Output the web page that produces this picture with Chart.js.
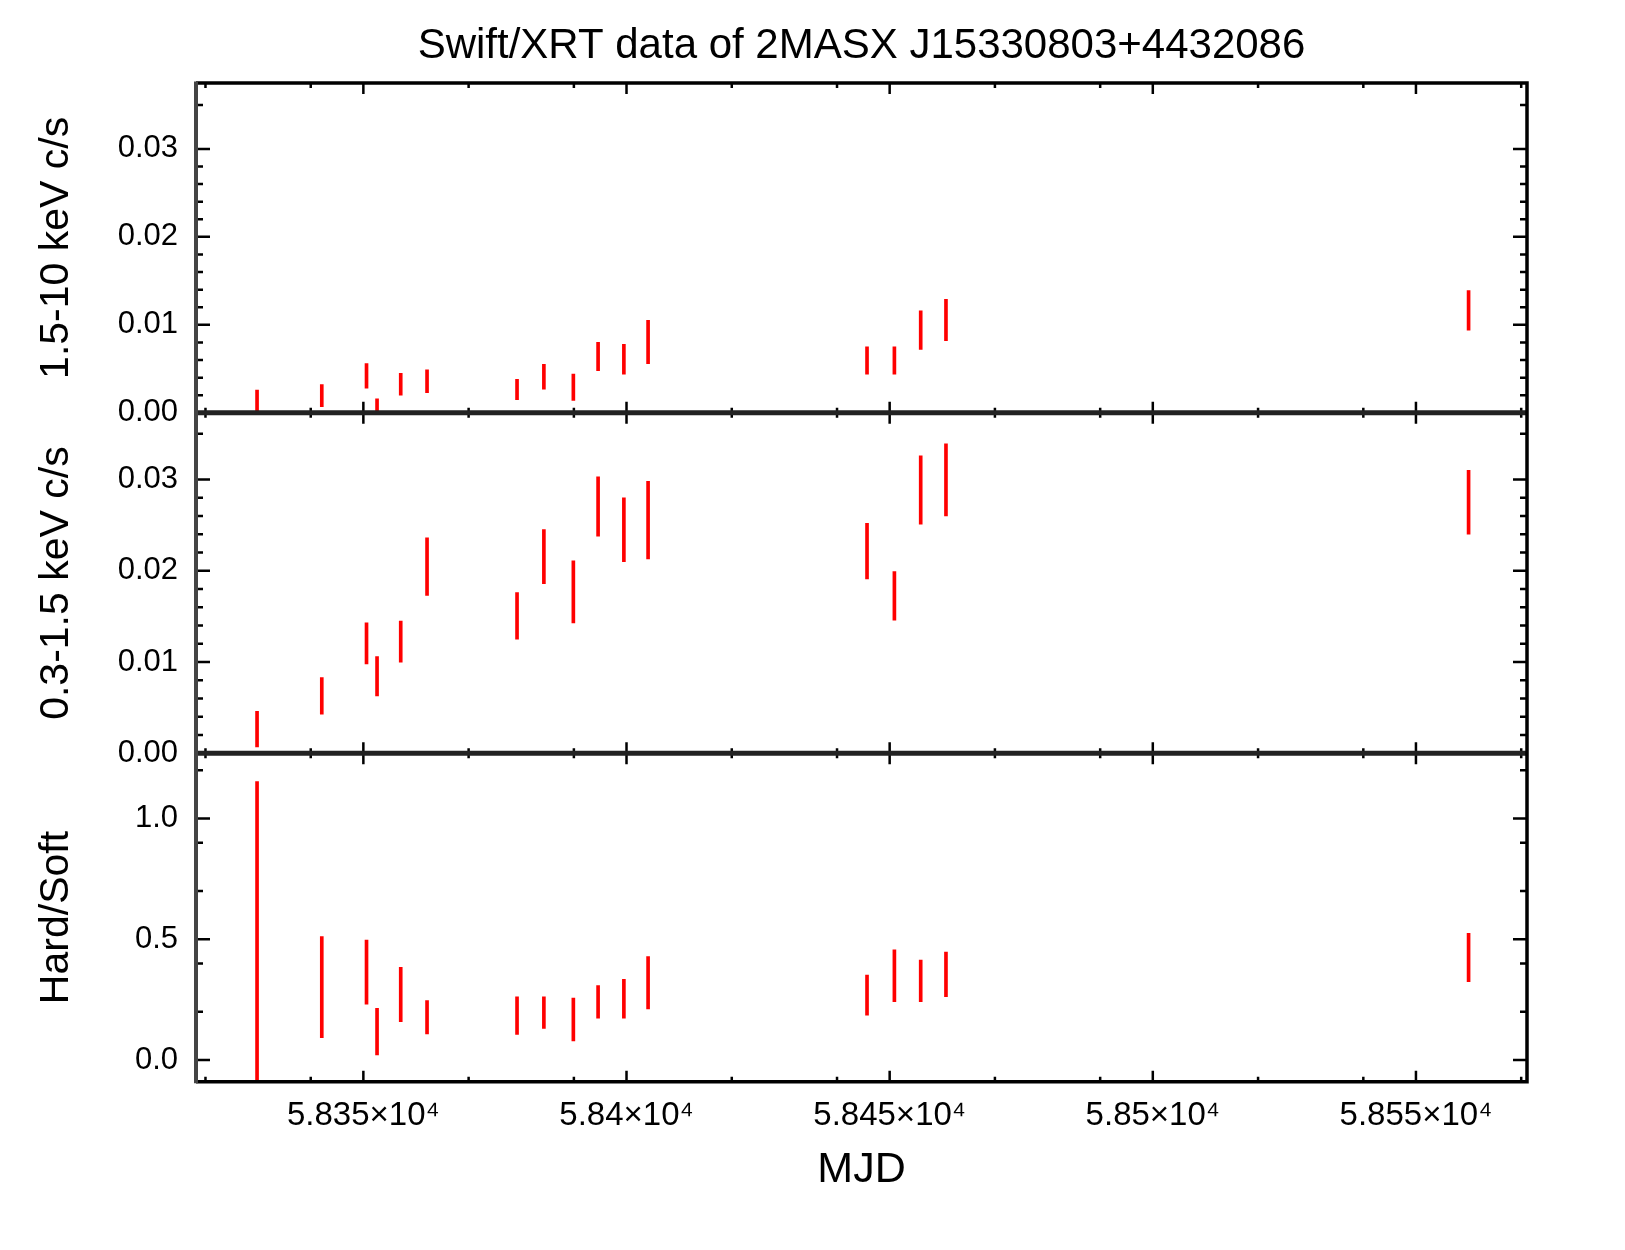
<!DOCTYPE html>
<html>
<head>
<meta charset="utf-8">
<title>Swift/XRT data of 2MASX J15330803+4432086</title>
<script src="https://cdn.jsdelivr.net/npm/chart.js@4.4.1/dist/chart.umd.min.js"></script>
<style>
  html, body { margin: 0; padding: 0; background: #fff; }
</style>
</head>
<body>
<canvas id="xrtChart" width="1625" height="1250"></canvas>
<script>
// observation dates (MJD)
const mjd = [58329.8, 58342.1, 58350.6, 58352.6, 58357.1, 58362.1, 58379.2, 58384.3, 58389.9,
             58394.6, 58399.5, 58404.1, 58445.7, 58450.9, 58455.9, 58460.7, 58560.0];

// 1.5-10 keV count rate (c/s), error bar ends
const hardLow  = [-0.0003, 0.0007, 0.0028, -0.0003, 0.0020, 0.0023, 0.0015, 0.0027, 0.0014,
                  0.0048, 0.0044, 0.0056, 0.0044, 0.0044, 0.0072, 0.0082, 0.0094];
const hardHigh = [0.0026, 0.0032, 0.0056, 0.0016, 0.0045, 0.0049, 0.0038, 0.0055, 0.0044,
                  0.0080, 0.0078, 0.0105, 0.0075, 0.0075, 0.0116, 0.0129, 0.0139];

// 0.3-1.5 keV count rate (c/s), error bar ends
const softLow  = [0.0007, 0.0043, 0.0098, 0.0063, 0.0100, 0.0173, 0.0125, 0.0186, 0.0143,
                  0.0238, 0.0210, 0.0213, 0.0191, 0.0146, 0.0251, 0.0260, 0.0240];
const softHigh = [0.0046, 0.0083, 0.0143, 0.0106, 0.0145, 0.0236, 0.0176, 0.0245, 0.0211,
                  0.0303, 0.0280, 0.0298, 0.0252, 0.0199, 0.0326, 0.0339, 0.0310];

// hard/soft ratio, error bar ends
const ratioLow  = [-0.15, 0.092, 0.231, 0.021, 0.159, 0.108, 0.106, 0.131, 0.079,
                   0.173, 0.173, 0.211, 0.186, 0.242, 0.242, 0.262, 0.324];
const ratioHigh = [1.153, 0.511, 0.497, 0.214, 0.384, 0.246, 0.262, 0.262, 0.256,
                   0.308, 0.334, 0.428, 0.352, 0.456, 0.414, 0.447, 0.525];

// ticks
const xTickValues = [58350, 58400, 58450, 58500, 58550];
const xTickLabels = ['5.835\u00d710\u2074', '5.84\u00d710\u2074', '5.845\u00d710\u2074', '5.85\u00d710\u2074', '5.855\u00d710\u2074'];
const xMinorTicks = [58320, 58340, 58370, 58390, 58420, 58440, 58470, 58490, 58520, 58540, 58570];

const rateTickValues = [0, 0.01, 0.02, 0.03];
const rateTickLabels = ['0.00', '0.01', '0.02', '0.03'];
const rateMinorTicks = [0.002, 0.004, 0.006, 0.008, 0.012, 0.014, 0.016, 0.018,
                        0.022, 0.024, 0.026, 0.028, 0.035];

const ratioTickValues = [0, 0.5, 1.0];
const ratioTickLabels = ['0.0', '0.5', '1.0'];
const ratioMinorTicks = [0.2, 0.4, 0.7, 0.9, 1.2];

const FONT = "'Liberation Sans', Arial, Helvetica, sans-serif";

function errorBars(lo, hi) {
  return mjd.map((x, i) => ({ x: x, y: [lo[i], hi[i]] }));
}

function yAxis(title, min, max, weight, values, labels) {
  return {
    type: 'linear',
    position: 'left',
    stack: 'panels',
    stackWeight: weight,
    min: min,
    max: max,
    grid: { display: false, drawTicks: false },
    border: { display: false },
    afterBuildTicks: s => { s.ticks = values.map(v => ({ value: v })); },
    afterFit: s => { s.width = 196; },
    ticks: {
      autoSkip: false,
      padding: 18,
      color: '#000',
      font: { family: FONT, size: 31 },
      callback: (v, i) => labels[i]
    },
    title: {
      display: true,
      text: title,
      color: '#000',
      font: { family: FONT, size: 41 },
      padding: { top: 32, bottom: 0 }
    }
  };
}

// inward ticks on every side of every panel, plus the frame
const frameTicks = {
  id: 'frameTicks',
  afterDatasetsDraw(chart) {
    const ctx = chart.ctx;
    const a = chart.chartArea;
    const xs = chart.scales.x;
    const panels = [
      { s: chart.scales.yHard, major: rateTickValues, minor: rateMinorTicks },
      { s: chart.scales.ySoft, major: rateTickValues, minor: rateMinorTicks },
      { s: chart.scales.yRatio, major: ratioTickValues, minor: ratioMinorTicks }
    ];
    ctx.save();
    ctx.strokeStyle = '#000';
    ctx.lineWidth = 2.5;
    ctx.beginPath();
    panels.forEach(p => {
      const s = p.s;
      p.major.forEach(v => {
        const y = s.getPixelForValue(v);
        ctx.moveTo(a.left, y); ctx.lineTo(a.left + 14, y);
        ctx.moveTo(a.right, y); ctx.lineTo(a.right - 14, y);
      });
      p.minor.forEach(v => {
        const y = s.getPixelForValue(v);
        ctx.moveTo(a.left, y); ctx.lineTo(a.left + 7, y);
        ctx.moveTo(a.right, y); ctx.lineTo(a.right - 7, y);
      });
      xTickValues.forEach(v => {
        const x = xs.getPixelForValue(v);
        ctx.moveTo(x, s.top); ctx.lineTo(x, s.top + 11);
        ctx.moveTo(x, s.bottom); ctx.lineTo(x, s.bottom - 11);
      });
      xMinorTicks.forEach(v => {
        const x = xs.getPixelForValue(v);
        ctx.moveTo(x, s.top); ctx.lineTo(x, s.top + 5);
        ctx.moveTo(x, s.bottom); ctx.lineTo(x, s.bottom - 5);
      });
    });
    ctx.stroke();

    // boundaries between panels
    ctx.strokeStyle = '#222';
    ctx.lineWidth = 5;
    ctx.beginPath();
    [chart.scales.yHard.bottom, chart.scales.ySoft.bottom].forEach(y => {
      ctx.moveTo(a.left, y); ctx.lineTo(a.right, y);
    });
    ctx.stroke();

    // frame
    ctx.lineWidth = 3.5;
    ctx.strokeStyle = '#000';
    ctx.beginPath();
    ctx.moveTo(a.left, a.top); ctx.lineTo(a.right, a.top);
    ctx.lineTo(a.right, a.bottom); ctx.lineTo(a.left, a.bottom);
    ctx.stroke();
    ctx.strokeStyle = '#444';
    ctx.lineWidth = 4;
    ctx.beginPath();
    ctx.moveTo(a.left, a.top - 1.5); ctx.lineTo(a.left, a.bottom + 1.5);
    ctx.stroke();
    ctx.restore();
  }
};

const barStyle = {
  backgroundColor: '#ff0000',
  borderWidth: 0,
  barThickness: 3,
  grouped: false,
  clip: 0
};

const chart = new Chart(document.getElementById('xrtChart'), {
  type: 'bar',
  data: {
    datasets: [
      Object.assign({ label: '1.5-10 keV', data: errorBars(hardLow, hardHigh), yAxisID: 'yHard' }, barStyle),
      Object.assign({ label: '0.3-1.5 keV', data: errorBars(softLow, softHigh), yAxisID: 'ySoft' }, barStyle),
      Object.assign({ label: 'Hard/Soft', data: errorBars(ratioLow, ratioHigh), yAxisID: 'yRatio' }, barStyle)
    ]
  },
  options: {
    responsive: false,
    animation: false,
    devicePixelRatio: 1,
    layout: { padding: { left: 0, right: 98, top: 0, bottom: 0 } },
    plugins: {
      legend: { display: false },
      tooltip: { enabled: false },
      title: {
        display: true,
        fullSize: false,
        text: 'Swift/XRT data of 2MASX J15330803+4432086',
        color: '#000',
        font: { family: FONT, size: 42, weight: 'normal' },
        padding: { top: 21, bottom: 11.5 }
      }
    },
    scales: {
      x: {
        type: 'linear',
        position: 'bottom',
        offset: false,
        min: 58318.2,
        max: 58571.1,
        grid: { display: false, drawTicks: false },
        border: { display: false },
        afterBuildTicks: s => { s.ticks = xTickValues.map(v => ({ value: v })); },
        afterFit: s => { s.height = 168.3; },
        ticks: {
          autoSkip: false,
          maxRotation: 0,
          padding: 14,
          color: '#000',
          font: { family: FONT, size: 33 },
          callback: (v, i) => xTickLabels[i]
        },
        title: {
          display: true,
          text: 'MJD',
          color: '#000',
          font: { family: FONT, size: 43 },
          padding: { top: 0, bottom: 54 }
        }
      },
      yRatio: yAxis('Hard/Soft', -0.09, 1.27, 328.4, ratioTickValues, ratioTickLabels),
      ySoft: yAxis('0.3-1.5 keV c/s', 0, 0.0373, 340.6, rateTickValues, rateTickLabels),
      yHard: yAxis('1.5-10 keV c/s', 0, 0.0375, 330, rateTickValues, rateTickLabels)
    }
  },
  plugins: [frameTicks]
});
</script>
</body>
</html>
